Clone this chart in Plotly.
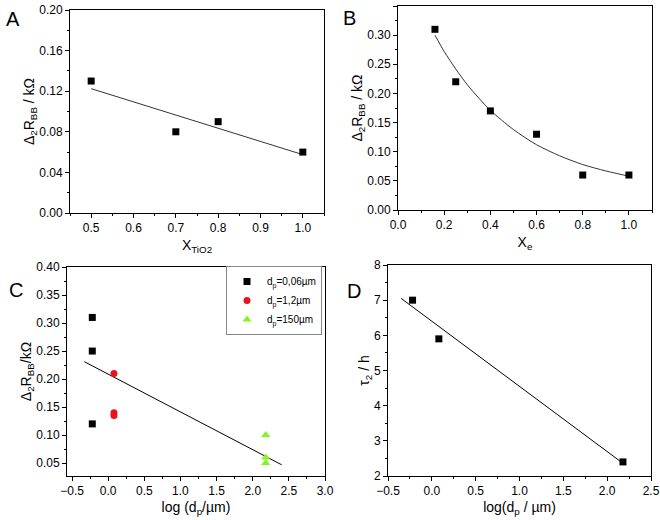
import plotly.graph_objects as go

# Panel A
a_x = [0.5, 0.7, 0.8, 1.0]
a_y = [0.13, 0.08, 0.09, 0.06]
a_fit_x = [0.5, 1.0]
a_fit_y = [0.1225, 0.0575]

# Panel B
b_x = [0.16, 0.25, 0.4, 0.6, 0.8, 1.0]
b_y = [0.31, 0.22, 0.17, 0.13, 0.06, 0.06]
b_fit_x = [0.16, 0.2, 0.25, 0.3, 0.35, 0.4, 0.5, 0.6, 0.7, 0.8, 0.9, 1.0]
b_fit_y = [0.300, 0.272, 0.242, 0.215, 0.192, 0.171, 0.138, 0.112, 0.093, 0.078, 0.067, 0.058]

# Panel C
c_names = ["d<sub>p</sub>=0,06µm", "d<sub>p</sub>=1,2µm", "d<sub>p</sub>=150µm"]
c1_x = [-0.22, -0.22, -0.22]
c1_y = [0.31, 0.25, 0.12]
c2_x = [0.08, 0.08, 0.08]
c2_y = [0.21, 0.14, 0.135]
c3_x = [2.18, 2.18, 2.18]
c3_y = [0.10, 0.06, 0.05]
c_fit_x = [-0.33, 2.4]
c_fit_y = [0.231, 0.047]

# Panel D
d_x = [-0.22, 0.08, 2.18]
d_y = [7.0, 5.9, 2.4]
d_fit_x = [-0.35, 2.17]
d_fit_y = [7.05, 2.38]

W, H = 660, 520
FONT = "Liberation Sans, Arial, sans-serif"
LINE = "#333333"

def px(x):
    return x / W

def py(y):
    return 1 - y / H

def dx(l, r):
    return [px(l), px(r)]

def dy(t, b):
    return [py(b), py(t)]

fig = go.Figure()

sq = dict(symbol="square", size=7, color="black")

# A
fig.add_trace(go.Scatter(x=a_fit_x, y=a_fit_y, mode="lines", line=dict(color=LINE, width=1), xaxis="x", yaxis="y", showlegend=False))
fig.add_trace(go.Scatter(x=a_x, y=a_y, mode="markers", marker=sq, xaxis="x", yaxis="y", showlegend=False))
# B
fig.add_trace(go.Scatter(x=b_fit_x, y=b_fit_y, mode="lines", line=dict(color=LINE, width=1, shape="spline", smoothing=0.8), xaxis="x2", yaxis="y2", showlegend=False))
fig.add_trace(go.Scatter(x=b_x, y=b_y, mode="markers", marker=sq, xaxis="x2", yaxis="y2", showlegend=False))
# C
fig.add_trace(go.Scatter(x=c_fit_x, y=c_fit_y, mode="lines", line=dict(color="black", width=1), xaxis="x3", yaxis="y3", showlegend=False))
fig.add_trace(go.Scatter(x=c1_x, y=c1_y, mode="markers", name=c_names[0], marker=sq, xaxis="x3", yaxis="y3"))
fig.add_trace(go.Scatter(x=c2_x, y=c2_y, mode="markers", name=c_names[1], marker=dict(symbol="circle", size=7, color="#e8141b"), xaxis="x3", yaxis="y3"))
fig.add_trace(go.Scatter(x=c3_x, y=c3_y, mode="markers", name=c_names[2], marker=dict(symbol="triangle-up", size=8, color="#86f51f"), xaxis="x3", yaxis="y3"))
# D
fig.add_trace(go.Scatter(x=d_fit_x, y=d_fit_y, mode="lines", line=dict(color="black", width=1), xaxis="x4", yaxis="y4", showlegend=False))
fig.add_trace(go.Scatter(x=d_x, y=d_y, mode="markers", marker=sq, xaxis="x4", yaxis="y4", showlegend=False))

def ax(domain, rng, dtick, minor, fmt, title, anchor, standoff):
    return dict(
        domain=domain, range=rng, dtick=dtick, tick0=0, tickformat=fmt,
        showline=True, mirror=True, linecolor="black", linewidth=1,
        ticks="outside", ticklen=4, tickcolor="black", tickwidth=1,
        minor=dict(dtick=minor, ticks="outside", ticklen=2, tickcolor="black", tickwidth=1),
        showgrid=False, zeroline=False, anchor=anchor, automargin=False,
        tickfont=dict(family=FONT, size=12, color="black"),
        title=dict(text=title, font=dict(family=FONT, size=14, color="black"), standoff=standoff),
    )

yA = "Δ<sub>2</sub>R<sub>BB</sub> / kΩ"
fig.update_layout(
    width=W, height=H, plot_bgcolor="white", paper_bgcolor="white",
    margin=dict(l=0, r=0, t=0, b=0, autoexpand=False),
    xaxis=ax(dx(70, 324), [0.45, 1.05], 0.1, 0.05, ".1f", "X<sub>TiO2</sub>", "y", 5),
    yaxis=ax(dy(10, 213), [0, 0.20], 0.04, 0.02, ".2f", yA, "x", 0),
    xaxis2=ax(dx(398, 652), [0, 1.1], 0.2, 0.1, ".1f", "X<sub>e</sub>", "y2", 5),
    yaxis2=ax(dy(6, 210), [0, 0.35], 0.05, 0.025, ".2f", yA, "x2", 0),
    xaxis3=ax(dx(67, 325), [-0.57, 3.0], 0.5, 0.25, ".1f", "log (d<sub>p</sub>/µm)", "y3", 4),
    yaxis3=ax(dy(267, 476), [0.027, 0.40], 0.05, 0.025, ".2f", "Δ<sub>2</sub>R<sub>BB</sub>/kΩ", "x3", 0),
    xaxis4=ax(dx(388, 651), [-0.5, 2.5], 0.5, 0.25, ".1f", "log(d<sub>p</sub> / µm)", "y4", 4),
    yaxis4=ax(dy(265, 476), [2, 8], 1, 0.5, "d", "τ<sub>2</sub> / h", "x4", 0),
    legend=dict(x=px(322), y=py(266), xanchor="right", yanchor="top",
                bordercolor="#888888", borderwidth=1, bgcolor="white",
                font=dict(family=FONT, size=10, color="black"),
                itemwidth=30, tracegroupgap=0),
    showlegend=True,
)
for txt, x, y in [("A", 13, 19), ("B", 349, 18), ("C", 16, 290), ("D", 354, 291)]:
    fig.add_annotation(text=txt, x=px(x), y=py(y), xref="paper", yref="paper",
                       showarrow=False, font=dict(family=FONT, size=20, color="black"),
                       xanchor="center", yanchor="middle")

fig.write_html("out.html", config={"displayModeBar": False},
               post_script="document.body.style.margin='0px';document.body.style.overflow='hidden';")
